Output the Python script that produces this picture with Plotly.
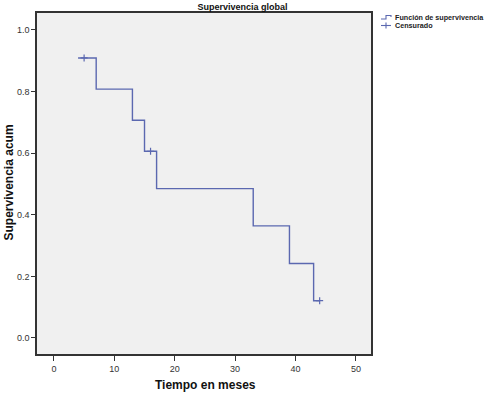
import plotly.graph_objects as go

# Kaplan-Meier steps (time in months, cumulative survival)
step_times = [4, 7, 13, 15, 17, 33, 39, 43, 44]
step_surv = [0.909, 0.808, 0.707, 0.606, 0.485, 0.364, 0.242, 0.121, 0.121]
# censored observations
cens_times = [5, 16, 44]
cens_surv = [0.909, 0.606, 0.121]

x_ticks = [0, 10, 20, 30, 40, 50]
y_ticks = [0.0, 0.2, 0.4, 0.6, 0.8, 1.0]

line_color = "#5b68b0"
font_family = "Liberation Sans, Arial, sans-serif"

W, H = 485, 395
ml, mr, mt, mb = 37, 114, 13, 41
pw, ph = W - ml - mr, H - mt - mb

def px(xp):
    return (xp - ml) / pw

def py(yp):
    return 1 - (yp - mt) / ph

fig = go.Figure()
fig.add_trace(go.Scatter(
    x=step_times, y=step_surv, mode="lines", line_shape="hv",
    line=dict(color=line_color, width=1.4), name="Función de supervivencia",
    showlegend=False,
))
fig.add_trace(go.Scatter(
    x=cens_times, y=cens_surv, mode="markers",
    marker=dict(symbol="cross-thin", size=5, line=dict(color=line_color, width=1.2)),
    name="Censurado", showlegend=False,
))

# manual compact legend (SPSS style)
ix0, ix1 = 381, 391
fig.add_shape(type="path", xref="paper", yref="paper",
              path=f"M {px(ix0)} {py(19)} L {px(ix0+5)} {py(19)} L {px(ix0+5)} {py(15.5)} L {px(ix1)} {py(15.5)} L {px(ix1)} {py(17)}",
              line=dict(color=line_color, width=1.1))
fig.add_shape(type="line", xref="paper", yref="paper",
              x0=px(ix0), x1=px(ix1), y0=py(25.5), y1=py(25.5), line=dict(color=line_color, width=1.1))
fig.add_shape(type="line", xref="paper", yref="paper",
              x0=px(ix0+5), x1=px(ix0+5), y0=py(22.5), y1=py(28.5), line=dict(color=line_color, width=1.1))
fig.add_annotation(xref="paper", yref="paper", x=px(393), y=py(17.5), xanchor="left", yanchor="middle",
                   text="<b>Función de supervivencia</b>", showarrow=False,
                   font=dict(size=7.2, color="#222", family=font_family))
fig.add_annotation(xref="paper", yref="paper", x=px(393), y=py(25.5), xanchor="left", yanchor="middle",
                   text="<b>Censurado</b>", showarrow=False,
                   font=dict(size=7.2, color="#222", family=font_family))

# axis titles
fig.add_annotation(xref="paper", yref="paper", x=px(8.5), y=py(183), xanchor="center", yanchor="middle",
                   text="<b>Supervivencia acum</b>", textangle=-90, showarrow=False,
                   font=dict(size=12, color="#111", family=font_family))
fig.add_annotation(xref="paper", yref="paper", x=px(205), y=py(385), xanchor="center", yanchor="middle",
                   text="<b>Tiempo en meses</b>", showarrow=False,
                   font=dict(size=12, color="#111", family=font_family))

fig.update_layout(
    width=W, height=H,
    margin=dict(l=ml, r=mr, t=mt, b=mb, autoexpand=False),
    paper_bgcolor="white", plot_bgcolor="#f0f0f0",
    font=dict(family=font_family, color="#333"),
    title=dict(text="<b>Supervivencia global</b>", x=0.5, xref="container", xanchor="center",
               y=1 - 6.5 / H, yref="container", yanchor="middle",
               font=dict(size=9, color="#111", family=font_family)),
    showlegend=False,
)
fig.update_xaxes(
    range=[-2.8, 52.5], tickvals=x_ticks, ticktext=[str(v) for v in x_ticks],
    showgrid=False, zeroline=False, showline=True, linecolor="#333", linewidth=1.5, mirror=True,
    ticks="outside", ticklen=5, tickcolor="#333", tickwidth=1, automargin=False,
    tickfont=dict(size=9, color="#333"),
)
fig.update_yaxes(
    range=[-0.052, 1.055], tickvals=y_ticks, ticktext=[f"{v:.1f}" for v in y_ticks],
    showgrid=False, zeroline=False, showline=True, linecolor="#333", linewidth=1.5, mirror=True,
    ticks="outside", ticklen=4, tickcolor="#333", tickwidth=1, automargin=False,
    tickfont=dict(size=9, color="#333"),
)

fig.write_html("out.html", config={"displayModeBar": False},
               post_script="document.body.style.margin='0';document.body.style.overflow='hidden';")
